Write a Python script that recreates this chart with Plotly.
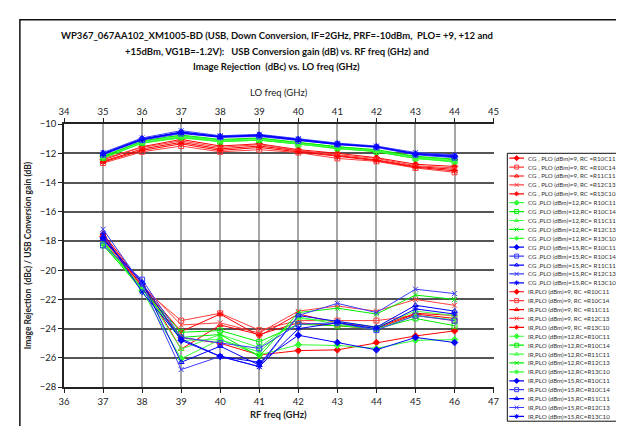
import plotly.graph_objects as go

W, H = 624, 426

# ---------------- data ----------------
lo_freq = [35, 36, 37, 38, 39, 40, 41, 42, 43, 44]
rf_freq = [37, 38, 39, 40, 41, 42, 43, 44, 45, 46]

rc_names = ["R10C11", "R10C14", "R11C11", "R12C13", "R13C10"]
plo_levels = [9, 12, 15]

# Conversion gain (dB) vs LO freq
cg_9_r10c11 = [-12.45, -11.55, -11.05, -11.50, -11.35, -11.75, -12.00, -12.30, -12.75, -12.90]
cg_9_r10c14 = [-12.67, -11.90, -11.50, -11.90, -11.75, -11.95, -12.35, -12.55, -13.00, -13.30]
cg_9_r11c11 = [-12.55, -11.70, -11.25, -11.70, -11.50, -11.85, -12.15, -12.45, -12.90, -13.10]
cg_9_r12c13 = [-12.35, -11.60, -11.15, -11.60, -11.40, -11.80, -12.10, -12.35, -12.85, -13.00]
cg_9_r13c10 = [-12.60, -11.80, -11.35, -11.80, -11.60, -11.90, -12.25, -12.50, -12.95, -13.20]

cg_12_r10c11 = [-12.20, -11.20, -10.80, -11.10, -11.00, -11.30, -11.55, -11.80, -12.25, -12.45]
cg_12_r10c14 = [-12.30, -11.30, -10.90, -11.20, -11.10, -11.40, -11.65, -11.90, -12.35, -12.55]
cg_12_r11c11 = [-12.15, -11.25, -10.85, -11.15, -11.05, -11.35, -11.60, -11.85, -12.30, -12.50]
cg_12_r12c13 = [-12.25, -11.15, -10.75, -11.05, -10.95, -11.25, -11.55, -11.75, -12.20, -12.40]
cg_12_r13c10 = [-12.35, -11.30, -10.95, -11.20, -11.10, -11.35, -11.70, -11.85, -12.35, -12.60]

cg_15_r10c11 = [-12.00, -11.00, -10.55, -10.85, -10.75, -11.05, -11.35, -11.55, -12.05, -12.20]
cg_15_r10c14 = [-12.10, -11.10, -10.65, -10.90, -10.85, -11.15, -11.40, -11.60, -12.10, -12.30]
cg_15_r11c11 = [-12.05, -11.05, -10.60, -10.90, -10.80, -11.10, -11.40, -11.55, -12.00, -12.15]
cg_15_r12c13 = [-11.95, -10.95, -10.45, -10.80, -10.70, -11.00, -11.30, -11.50, -11.95, -12.10]
cg_15_r13c10 = [-12.05, -11.05, -10.55, -10.85, -10.75, -11.05, -11.35, -11.55, -12.05, -12.25]

# Image rejection (dBc) vs RF freq
ir_9_r10c11 = [-17.7, -21.1, -24.6, -25.0, -25.8, -25.5, -25.45, -24.95, -24.5, -24.15]
ir_9_r10c14 = [-17.9, -21.2, -23.45, -22.95, -24.1, -23.45, -23.45, -23.45, -23.1, -23.45]
ir_9_r11c11 = [-17.5, -20.9, -25.4, -23.75, -24.4, -23.6, -23.8, -24.0, -23.0, -23.3]
ir_9_r12c13 = [-17.6, -21.0, -23.75, -23.6, -24.3, -22.8, -22.45, -22.8, -22.0, -22.4]
ir_9_r13c10 = [-17.8, -21.1, -24.2, -23.0, -24.5, -23.0, -23.6, -23.9, -22.95, -23.1]

ir_12_r10c11 = [-18.2, -21.4, -26.05, -24.75, -25.8, -25.1, -25.15, -25.35, -24.8, -24.75]
ir_12_r10c14 = [-18.3, -21.3, -24.25, -24.13, -24.9, -23.7, -23.8, -24.0, -23.3, -23.8]
ir_12_r11c11 = [-18.1, -21.2, -25.4, -24.4, -25.3, -23.3, -23.5, -23.9, -22.8, -23.1]
ir_12_r12c13 = [-18.0, -21.3, -24.6, -24.4, -25.9, -22.9, -22.6, -23.0, -21.7, -22.0]
ir_12_r13c10 = [-18.1, -21.3, -24.8, -24.75, -25.6, -23.2, -23.7, -24.05, -23.1, -23.4]

ir_15_r10c11 = [-17.8, -20.9, -24.8, -25.9, -26.3, -24.45, -24.95, -25.45, -24.6, -24.95]
ir_15_r10c14 = [-18.3, -20.65, -24.6, -25.0, -25.35, -23.7, -23.6, -24.1, -23.1, -23.45]
ir_15_r11c11 = [-17.9, -20.8, -26.3, -25.2, -26.5, -23.1, -23.5, -23.9, -22.4, -22.8]
ir_15_r12c13 = [-17.2, -21.0, -26.8, -25.9, -26.6, -23.1, -22.27, -22.9, -21.3, -21.6]
ir_15_r13c10 = [-17.5, -21.5, -24.7, -25.9, -26.6, -24.0, -23.6, -24.0, -22.65, -23.0]

cg_data = {
    9: [cg_9_r10c11, cg_9_r10c14, cg_9_r11c11, cg_9_r12c13, cg_9_r13c10],
    12: [cg_12_r10c11, cg_12_r10c14, cg_12_r11c11, cg_12_r12c13, cg_12_r13c10],
    15: [cg_15_r10c11, cg_15_r10c14, cg_15_r11c11, cg_15_r12c13, cg_15_r13c10],
}
ir_data = {
    9: [ir_9_r10c11, ir_9_r10c14, ir_9_r11c11, ir_9_r12c13, ir_9_r13c10],
    12: [ir_12_r10c11, ir_12_r10c14, ir_12_r11c11, ir_12_r12c13, ir_12_r13c10],
    15: [ir_15_r10c11, ir_15_r10c14, ir_15_r11c11, ir_15_r12c13, ir_15_r13c10],
}

y_ticks = [-28, -26, -24, -22, -20, -18, -16, -14, -12, -10]

title_lines = [
    "WP367_067AA102_XM1005-BD (USB, Down Conversion, IF=2GHz, PRF=-10dBm,  PLO= +9, +12 and",
    "+15dBm, VG1B=-1.2V):   USB Conversion gain (dB) vs. RF freq (GHz) and",
    "Image Rejection  (dBc) vs. LO freq (GHz)",
]

# ---------------- styles ----------------
colors = {
    9: ["#ff0000", "#ff3b3b", "#ff0000", "#ff4040", "#ff0000"],
    12: ["#33ff33", "#00ee00", "#44ff44", "#00ee00", "#33ff33"],
    15: ["#0000ff", "#3b3bff", "#0000ff", "#3b3bff", "#0000ff"],
}
symbols = ["diamond", "square-open", "triangle-up-open", "x-thin-open", "asterisk-open"]

FONT = "Lato"

def px(x):
    return x / W

def py(y):
    return 1 - y / H

PL, PR, PT, PB = 51, 489, 113, 383  # plot area in pixels

fig = go.Figure()

legend_entries = []
for plo in plo_levels:
    for i, rc in enumerate(rc_names):
        if plo == 9:
            name = f"CG , PLO (dBm)={plo}, RC =R{rc[1:]}"
        else:
            name = f"CG ,PLO (dBm)={plo},RC= {rc}"
        c = colors[plo][i]
        fig.add_trace(go.Scatter(
            x=lo_freq, y=cg_data[plo][i], xaxis="x2", yaxis="y",
            mode="lines+markers", name=name, showlegend=False,
            line=dict(color=c, width=1),
            marker=dict(symbol=symbols[i], size=5, color=c, line=dict(color=c, width=1)),
        ))
        legend_entries.append((name, c, symbols[i]))

for plo in plo_levels:
    for i, rc in enumerate(rc_names):
        if plo == 9:
            name = f"IR,PLO (dBm)={plo}, RC =R{rc[1:]}"
        else:
            name = f"IR,PLO (dBm)={plo},RC={rc}"
        c = colors[plo][i]
        fig.add_trace(go.Scatter(
            x=rf_freq, y=ir_data[plo][i], xaxis="x", yaxis="y",
            mode="lines+markers", name=name, showlegend=False,
            line=dict(color=c, width=1),
            marker=dict(symbol=symbols[i], size=5, color=c, line=dict(color=c, width=1)),
        ))
        legend_entries.append((name, c, symbols[i]))

# ---------------- manual legend ----------------
LX0, LX1, LY0, LY1 = 503, 619, 143, 418
step = 9.14
annotations = []
for k, (name, c, sym) in enumerate(legend_entries):
    yy = 5 + k * step
    fig.add_trace(go.Scatter(
        x=[2, 9.5, 17], y=[yy, yy, yy], xaxis="x3", yaxis="y3",
        mode="lines", showlegend=False, hoverinfo="skip",
        line=dict(color=c, width=1.2),
    ))
    fig.add_trace(go.Scatter(
        x=[9.5], y=[yy], xaxis="x3", yaxis="y3",
        mode="markers", showlegend=False, hoverinfo="skip",
        marker=dict(symbol=sym, size=4, color=c, line=dict(color=c, width=1)),
    ))
    annotations.append(dict(
        x=19, y=yy, xref="x3", yref="y3", text=name, showarrow=False,
        xanchor="left", yanchor="middle",
        font=dict(family=FONT, size=6.2, color="#333333"),
    ))

# titles
for j, line in enumerate(title_lines):
    annotations.append(dict(
        x=px(268), y=py(22 + 16 * j), xref="paper", yref="paper", text=f"<b>{line}</b>",
        showarrow=False, xanchor="center", yanchor="middle",
        font=dict(family=FONT, size=9.5, color="#111111"),
    ))
annotations.append(dict(
    x=px((PL + PR) / 2), y=py(81), xref="paper", yref="paper", text="LO freq (GHz)",
    showarrow=False, xanchor="center", yanchor="middle",
    font=dict(family=FONT, size=9.5, color="#222222"),
))
annotations.append(dict(
    x=px((PL + PR) / 2), y=py(411), xref="paper", yref="paper", text="<b>RF freq (GHz)</b>",
    showarrow=False, xanchor="center", yanchor="middle",
    font=dict(family=FONT, size=9.5, color="#222222"),
))
annotations.append(dict(
    x=px(14), y=py(248), xref="paper", yref="paper",
    text="<b>Image Rejection  (dBc) / USB Conversion gain (dB)</b>",
    showarrow=False, xanchor="center", yanchor="middle", textangle=-90,
    font=dict(family=FONT, size=8.5, color="#222222"),
))

shapes = [
    dict(type="rect", xref="paper", yref="paper", x0=px(6), x1=px(618), y0=-0.05, y1=py(6),
         line=dict(color="#111111", width=1.5)),
    dict(type="rect", xref="paper", yref="paper", x0=px(LX0), x1=px(LX1), y0=py(LY1), y1=py(LY0),
         line=dict(color="#111111", width=1), fillcolor="rgba(255,255,255,0)"),
]

tickfont = dict(family=FONT, size=9.5, color="#222222")

fig.update_layout(
    width=W, height=H,
    margin=dict(l=0, r=0, t=0, b=0),
    paper_bgcolor="white", plot_bgcolor="white",
    showlegend=False,
    annotations=annotations,
    shapes=shapes,
    xaxis=dict(
        domain=[px(PL), px(PR)], range=[36, 47], dtick=1, tick0=36, anchor="y",
        showgrid=True, gridcolor="#a6a6a6", gridwidth=1.5,
        showline=True, linecolor="#222222", linewidth=2,
        ticks="outside", ticklen=4, tickcolor="#222222", tickfont=tickfont,
        zeroline=False,
    ),
    xaxis2=dict(
        range=[34, 45], dtick=1, tick0=34, overlaying="x", side="top", anchor="y",
        showgrid=False, showline=True, linecolor="#222222", linewidth=1.5,
        ticks="outside", ticklen=4, tickcolor="#222222", tickfont=tickfont,
        zeroline=False,
    ),
    yaxis=dict(
        domain=[py(PB), py(PT)], range=[-28, -10], tickvals=y_ticks, anchor="x",
        showgrid=True, gridcolor="#555555", gridwidth=1.5,
        showline=True, linecolor="#222222", linewidth=1.5,
        ticks="outside", ticklen=4, tickcolor="#222222", tickfont=tickfont,
        zeroline=False,
    ),
    xaxis3=dict(domain=[px(LX0), px(LX1)], range=[0, LX1 - LX0], visible=False,
                anchor="y3", fixedrange=True),
    yaxis3=dict(domain=[py(LY1), py(LY0)], range=[LY1 - LY0, 0], visible=False,
                anchor="x3", fixedrange=True),
)

fig.write_html("out.html")
